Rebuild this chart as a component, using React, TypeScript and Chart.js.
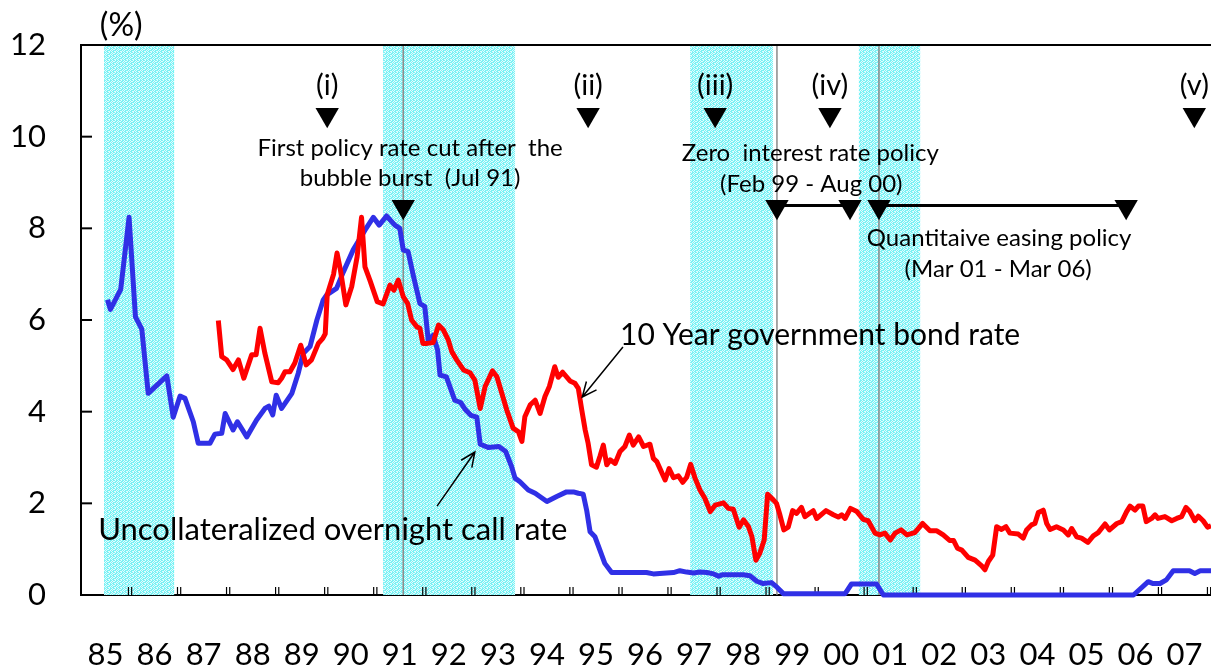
import React, { useEffect, useRef } from 'react';
import { Chart, registerables } from 'chart.js';

Chart.register(...registerables);

const FONT = 'Lato, "Open Sans", "DejaVu Sans", sans-serif';

// ---------- data ----------
const yearLabels = ['85', '86', '87', '88', '89', '90', '91', '92', '93', '94', '95', '96', '97', '98', '99', '00', '01', '02', '03', '04', '05', '06', '07'];
const yTicks = [0, 2, 4, 6, 8, 10, 12];

// Uncollateralized overnight call rate (date in fractional years, %)
const callDates = [
  1985.54, 1985.60, 1985.81, 1985.98, 1986.11, 1986.24, 1986.37, 1986.75, 1986.88, 1987.02,
  1987.12, 1987.29, 1987.39, 1987.63, 1987.73, 1987.87, 1987.94, 1988.10, 1988.19, 1988.38,
  1988.58, 1988.75, 1988.83, 1988.91, 1988.98, 1989.09, 1989.30, 1989.43, 1989.53, 1989.67,
  1989.81, 1989.94, 1990.01, 1990.21, 1990.35, 1990.55, 1990.79, 1990.96, 1991.08, 1991.23,
  1991.40, 1991.50, 1991.57, 1991.67, 1991.78, 1991.91, 1992.01, 1992.08, 1992.18, 1992.27,
  1992.32, 1992.45, 1992.62, 1992.74, 1992.84, 1992.95, 1993.07, 1993.14, 1993.30, 1993.52,
  1993.66, 1993.78, 1993.85, 1993.95, 1994.12, 1994.26, 1994.50, 1994.70, 1994.90, 1995.04,
  1995.14, 1995.24, 1995.31, 1995.38, 1995.48, 1995.58, 1995.68, 1995.82, 1996.53, 1996.67,
  1996.80, 1997.08, 1997.21, 1997.35, 1997.49, 1997.62, 1997.76, 1997.90, 1998.00, 1998.07,
  1998.50, 1998.64, 1998.78, 1998.91, 1999.08, 1999.19, 1999.32, 2000.58, 2000.71, 2001.22,
  2001.36, 2006.46, 2006.76, 2006.86, 2007.00, 2007.13, 2007.27, 2007.60, 2007.71, 2007.82,
  2008.04,
];
const callRates = [
  6.44, 6.23, 6.67, 8.24, 6.07, 5.80, 4.40, 4.78, 3.88, 4.34,
  4.29, 3.78, 3.31, 3.31, 3.51, 3.53, 3.96, 3.60, 3.78, 3.45,
  3.82, 4.07, 4.12, 3.93, 4.36, 4.07, 4.40, 4.84, 5.27, 5.42,
  6.00, 6.44, 6.55, 6.69, 7.05, 7.53, 7.96, 8.24, 8.07, 8.27,
  8.07, 8.00, 7.53, 7.49, 6.95, 6.36, 6.29, 5.56, 5.67, 5.35,
  4.80, 4.76, 4.25, 4.20, 4.04, 3.92, 3.88, 3.29, 3.22, 3.24,
  3.13, 2.80, 2.55, 2.47, 2.29, 2.22, 2.04, 2.15, 2.25, 2.25,
  2.22, 2.20, 1.85, 1.38, 1.27, 0.98, 0.69, 0.49, 0.49, 0.46,
  0.47, 0.49, 0.53, 0.50, 0.48, 0.50, 0.49, 0.46, 0.41, 0.44,
  0.44, 0.42, 0.30, 0.25, 0.27, 0.17, 0.03, 0.03, 0.24, 0.24,
  0.00, 0.00, 0.29, 0.25, 0.25, 0.33, 0.53, 0.53, 0.47, 0.53,
  0.53,
];

// 10 Year government bond rate
const bondDates = [
  1987.80, 1987.87, 1987.97, 1988.10, 1988.21, 1988.32, 1988.48, 1988.57, 1988.65, 1988.75,
  1988.89, 1989.02, 1989.09, 1989.16, 1989.26, 1989.36, 1989.48, 1989.59, 1989.70, 1989.84,
  1989.93, 1989.98, 1990.02, 1990.15, 1990.22, 1990.29, 1990.40, 1990.52, 1990.63, 1990.72,
  1990.79, 1990.89, 1991.04, 1991.16, 1991.30, 1991.38, 1991.47, 1991.57, 1991.66, 1991.74,
  1991.85, 1991.91, 1991.97, 1992.06, 1992.18, 1992.29, 1992.39, 1992.49, 1992.56, 1992.66,
  1992.80, 1992.93, 1993.03, 1993.14, 1993.24, 1993.39, 1993.48, 1993.58, 1993.68, 1993.81,
  1993.92, 1993.99, 1994.05, 1994.16, 1994.26, 1994.36, 1994.46, 1994.55, 1994.66, 1994.73,
  1994.82, 1994.97, 1995.07, 1995.14, 1995.21, 1995.28, 1995.34, 1995.41, 1995.51, 1995.58,
  1995.65, 1995.72, 1995.79, 1995.89, 1995.99, 1996.09, 1996.18, 1996.26, 1996.37, 1996.47,
  1996.60, 1996.67, 1996.74, 1996.91, 1996.99, 1997.08, 1997.18, 1997.27, 1997.35, 1997.43,
  1997.52, 1997.62, 1997.72, 1997.83, 1997.93, 1998.10, 1998.20, 1998.30, 1998.42, 1998.51,
  1998.61, 1998.68, 1998.76, 1998.84, 1998.93, 1999.00, 1999.12, 1999.18, 1999.25, 1999.33,
  1999.42, 1999.51, 1999.59, 1999.69, 1999.76, 1999.93, 2000.00, 2000.19, 2000.34, 2000.44,
  2000.51, 2000.58, 2000.69, 2000.82, 2000.95, 2001.05, 2001.19, 2001.29, 2001.39, 2001.50,
  2001.60, 2001.72, 2001.84, 2002.00, 2002.16, 2002.31, 2002.45, 2002.58, 2002.71, 2002.79,
  2002.87, 2002.96, 2003.09, 2003.23, 2003.37, 2003.43, 2003.50, 2003.59, 2003.67, 2003.77,
  2003.86, 2003.94, 2004.11, 2004.21, 2004.28, 2004.38, 2004.45, 2004.52, 2004.62, 2004.69,
  2004.76, 2004.89, 2005.03, 2005.13, 2005.20, 2005.30, 2005.40, 2005.53, 2005.64, 2005.74,
  2005.88, 2005.97, 2006.12, 2006.22, 2006.32, 2006.39, 2006.49, 2006.56, 2006.65, 2006.72,
  2006.83, 2006.90, 2006.96, 2007.10, 2007.24, 2007.34, 2007.44, 2007.53, 2007.61, 2007.71,
  2007.78, 2007.88, 2007.97, 2008.04,
];
const bondRates = [
  5.99, 5.20, 5.13, 4.92, 5.13, 4.73, 5.24, 5.24, 5.82, 5.27,
  4.65, 4.63, 4.73, 4.87, 4.87, 5.06, 5.45, 5.02, 5.13, 5.49,
  5.60, 5.70, 6.55, 7.00, 7.46, 7.09, 6.33, 6.73, 7.38, 8.24,
  7.16, 6.87, 6.40, 6.35, 6.76, 6.65, 6.87, 6.51, 6.36, 6.00,
  5.85, 5.82, 5.49, 5.49, 5.51, 5.89, 5.78, 5.56, 5.31, 5.13,
  4.91, 4.85, 4.69, 4.07, 4.55, 4.89, 4.76, 4.40, 4.04, 3.64,
  3.56, 3.35, 3.89, 4.15, 4.25, 3.96, 4.33, 4.55, 4.98, 4.75,
  4.86, 4.67, 4.62, 4.51, 4.04, 3.60, 3.31, 2.84, 2.79, 3.02,
  3.27, 2.84, 2.95, 2.87, 3.13, 3.24, 3.49, 3.27, 3.45, 3.24,
  3.29, 2.98, 2.91, 2.51, 2.76, 2.56, 2.60, 2.46, 2.57, 2.85,
  2.55, 2.29, 2.11, 1.82, 1.96, 2.01, 1.89, 1.87, 1.48, 1.64,
  1.49, 1.27, 0.76, 0.91, 1.20, 2.20, 2.07, 2.00, 1.75, 1.42,
  1.48, 1.84, 1.78, 1.91, 1.71, 1.84, 1.67, 1.84, 1.75, 1.70,
  1.75, 1.67, 1.89, 1.82, 1.65, 1.62, 1.35, 1.31, 1.35, 1.20,
  1.35, 1.42, 1.31, 1.36, 1.56, 1.40, 1.40, 1.31, 1.19, 1.19,
  1.02, 0.98, 0.82, 0.76, 0.63, 0.55, 0.73, 0.87, 1.49, 1.43,
  1.49, 1.35, 1.33, 1.24, 1.42, 1.53, 1.56, 1.80, 1.85, 1.56,
  1.43, 1.49, 1.42, 1.31, 1.45, 1.27, 1.24, 1.15, 1.29, 1.36,
  1.55, 1.42, 1.56, 1.60, 1.82, 1.94, 1.85, 1.94, 1.94, 1.60,
  1.67, 1.75, 1.67, 1.71, 1.62, 1.67, 1.71, 1.91, 1.82, 1.62,
  1.72, 1.62, 1.48, 1.51,
];

// recession periods (shaded)
const recessionStarts = [1985.47, 1991.16, 1997.42, 2000.86];
const recessionEnds = [1986.90, 1993.85, 1999.11, 2002.11];

// policy change dates (grey vertical lines)
const policyLines = [1991.57, 1999.19, 2001.27];

// upper event markers (i)..(v)
const eventDates = [1990.02, 1995.34, 1997.93, 2000.27, 2007.70];
const eventNames = ['(i)', '(ii)', '(iii)', '(iv)', '(v)'];
const eventLevel = 10.48;

// lower policy markers
const policyDates = [1991.57, 1999.19, 2000.68, 2001.27, 2006.31];
const policyLevel = 8.47;
const zirpPeriod = [1999.19, 2000.68];
const qePeriod = [2001.27, 2006.31];
const periodLevel = 8.5;

// ---------- annotation config (data coordinates) ----------
const notes = [
  { text: '(%)', x: 1985.82, y: 12.42, size: 32, align: 'center' },
  { text: 'First policy rate cut after  the', x: 1991.71, y: 9.75, size: 24, align: 'center' },
  { text: 'bubble burst  (Jul 91)', x: 1991.71, y: 9.10, size: 24, align: 'center' },
  { text: 'Zero  interest rate policy', x: 1999.87, y: 9.64, size: 24, align: 'center' },
  { text: '(Feb 99 - Aug 00)', x: 1999.89, y: 8.97, size: 24, align: 'center' },
  { text: 'Quantitaive easing policy', x: 2003.72, y: 7.79, size: 24, align: 'center' },
  { text: '(Mar 01 - Mar 06)', x: 2003.70, y: 7.11, size: 24, align: 'center' },
  { text: '10 Year government bond rate', x: 1995.99, y: 5.67, size: 30, align: 'left' },
  { text: 'Uncollateralized overnight call rate', x: 1985.35, y: 1.42, size: 31, align: 'left' },
];
const eventLabelLevel = 11.11;
const arrows = [
  { from: [1996.05, 5.41], to: [1995.22, 4.32] },
  { from: [1992.26, 1.94], to: [1993.03, 3.12] },
];

const toXY = (dates: number[], vals: number[]) => dates.map((d, i) => ({ x: d, y: vals[i] }));

let shadePattern: CanvasPattern | null = null;
function getShade(ctx: CanvasRenderingContext2D) {
  if (shadePattern) return shadePattern;
  const c = document.createElement('canvas');
  c.width = 6;
  c.height = 4;
  const p = c.getContext('2d')!;
  const cells = [
    '101101',
    '011010',
    '110101',
    '001011',
  ];
  for (let j = 0; j < 4; j++) {
    for (let i = 0; i < 6; i++) {
      p.fillStyle = cells[j][i] === '1' ? '#78f2f5' : '#e2fcfd';
      p.fillRect(i, j, 1, 1);
    }
  }
  shadePattern = ctx.createPattern(c, 'repeat');
  return shadePattern;
}

const decorPlugin = {
  id: 'decor',
  beforeDatasetsDraw(chart: any) {
    const { ctx, chartArea: ca, scales } = chart;
    const xs = scales.x;
    const ys = scales.y;
    ctx.save();
    // recession shading
    ctx.fillStyle = getShade(ctx) || 'rgba(80, 238, 245, 0.45)';
    recessionStarts.forEach((s, i) => {
      const x1 = xs.getPixelForValue(s);
      const x2 = xs.getPixelForValue(recessionEnds[i]);
      ctx.fillRect(x1, ca.top, x2 - x1, ca.bottom - ca.top);
    });
    // grey policy lines
    ctx.strokeStyle = '#8a8a8a';
    ctx.lineWidth = 1.5;
    policyLines.forEach((d) => {
      const x = xs.getPixelForValue(d);
      ctx.beginPath();
      ctx.moveTo(x, ca.top);
      ctx.lineTo(x, ca.bottom);
      ctx.stroke();
    });
    // top border
    ctx.strokeStyle = '#000';
    ctx.lineWidth = 2;
    ctx.beginPath();
    ctx.moveTo(ca.left, ca.top);
    ctx.lineTo(ca.right, ca.top);
    ctx.stroke();
    // inward y tick marks
    yTicks.forEach((v) => {
      const y = ys.getPixelForValue(v);
      ctx.beginPath();
      ctx.moveTo(ca.left, y);
      ctx.lineTo(ca.left + 11, y);
      ctx.stroke();
    });
    // inward x tick marks (double)
    ctx.lineWidth = 1.2;
    for (let yr = 1986; yr <= 2008; yr++) {
      const x = xs.getPixelForValue(yr);
      [-1.6, 1.6].forEach((o) => {
        ctx.beginPath();
        ctx.moveTo(x + o, ca.bottom);
        ctx.lineTo(x + o, ca.bottom - 8);
        ctx.stroke();
      });
    }
    ctx.restore();
  },
  afterDatasetsDraw(chart: any) {
    const { ctx, scales } = chart;
    const xs = scales.x;
    const ys = scales.y;
    ctx.save();
    ctx.fillStyle = '#000';
    ctx.textBaseline = 'middle';
    // event labels
    ctx.font = `29px ${FONT}`;
    ctx.textAlign = 'center';
    eventDates.forEach((d, i) => {
      ctx.fillText(eventNames[i], xs.getPixelForValue(d), ys.getPixelForValue(eventLabelLevel));
    });
    notes.forEach((n) => {
      ctx.font = `${n.size}px ${FONT}`;
      ctx.textAlign = n.align as CanvasTextAlign;
      ctx.fillText(n.text, xs.getPixelForValue(n.x), ys.getPixelForValue(n.y));
    });
    // arrows
    ctx.strokeStyle = '#000';
    ctx.lineWidth = 1.5;
    arrows.forEach((a) => {
      const x1 = xs.getPixelForValue(a.from[0]);
      const y1 = ys.getPixelForValue(a.from[1]);
      const x2 = xs.getPixelForValue(a.to[0]);
      const y2 = ys.getPixelForValue(a.to[1]);
      ctx.beginPath();
      ctx.moveTo(x1, y1);
      ctx.lineTo(x2, y2);
      const ang = Math.atan2(y2 - y1, x2 - x1);
      const L = 16;
      const w = 0.42;
      ctx.moveTo(x2 - L * Math.cos(ang - w), y2 - L * Math.sin(ang - w));
      ctx.lineTo(x2, y2);
      ctx.lineTo(x2 - L * Math.cos(ang + w), y2 - L * Math.sin(ang + w));
      ctx.stroke();
    });
    ctx.restore();
  },
};

export default function App() {
  const canvasRef = useRef<HTMLCanvasElement | null>(null);

  useEffect(() => {
    document.body.style.margin = '0';
    const canvas = canvasRef.current;
    if (!canvas) return;
    const chart = new Chart(canvas, {
      type: 'line',
      data: {
        datasets: [
          {
            label: 'Uncollateralized overnight call rate',
            data: toXY(callDates, callRates),
            borderColor: '#3030e6',
            borderWidth: 5,
            pointRadius: 0,
            borderJoinStyle: 'round',
            tension: 0,
            clip: false,
            order: 3,
          },
          {
            label: '10 Year government bond rate',
            data: toXY(bondDates, bondRates),
            borderColor: '#ff0000',
            borderWidth: 5,
            pointRadius: 0,
            borderJoinStyle: 'round',
            tension: 0,
            clip: false,
            order: 2,
          },
          {
            label: 'periods',
            data: [
              { x: zirpPeriod[0], y: periodLevel },
              { x: zirpPeriod[1], y: periodLevel },
              { x: (zirpPeriod[1] + qePeriod[0]) / 2, y: null },
              { x: qePeriod[0], y: periodLevel },
              { x: qePeriod[1], y: periodLevel },
            ] as any,
            borderColor: '#000',
            borderWidth: 3,
            pointRadius: 0,
            spanGaps: false,
            order: 1,
          },
          {
            type: 'scatter',
            label: 'events',
            data: eventDates.map((d) => ({ x: d, y: eventLevel })),
            pointStyle: 'triangle',
            rotation: 180,
            pointRadius: 13.5,
            backgroundColor: '#000',
            borderColor: '#000',
            borderWidth: 0,
            clip: false,
            order: 0,
          } as any,
          {
            type: 'scatter',
            label: 'policy',
            data: policyDates.map((d) => ({ x: d, y: policyLevel })),
            pointStyle: 'triangle',
            rotation: 180,
            pointRadius: 13.5,
            backgroundColor: '#000',
            borderColor: '#000',
            borderWidth: 0,
            clip: false,
            order: 0,
          } as any,
        ],
      },
      options: {
        animation: false,
        responsive: false,
        devicePixelRatio: 1,
        events: [],
        layout: { autoPadding: false, padding: { top: 45, left: 0, right: 0, bottom: 0 } },
        plugins: {
          legend: { display: false },
          tooltip: { enabled: false },
        },
        scales: {
          x: {
            type: 'linear',
            position: 'bottom',
            min: 1985,
            max: 2008.04,
            grid: { display: false, drawTicks: false },
            border: { display: true, color: '#000', width: 2 },
            afterBuildTicks: (scale: any) => {
              scale.ticks = yearLabels.map((_, i) => ({ value: 1985.5 + i }));
            },
            afterFit: (scale: any) => {
              scale.height = 73;
              scale.paddingLeft = 0;
              scale.paddingRight = 0;
            },
            ticks: {
              autoSkip: false,
              maxRotation: 0,
              minRotation: 0,
              padding: 41,
              color: '#000',
              font: { family: FONT, size: 31 },
              callback: (v: any) => yearLabels[Math.round(Number(v) - 1985.5)],
            },
          },
          y: {
            type: 'linear',
            min: 0,
            max: 12,
            grid: { display: false, drawTicks: false },
            border: { display: true, color: '#000', width: 2 },
            afterBuildTicks: (scale: any) => {
              scale.ticks = yTicks.map((v) => ({ value: v }));
            },
            afterFit: (scale: any) => {
              scale.width = 81;
              scale.paddingTop = 0;
              scale.paddingBottom = 0;
            },
            ticks: {
              padding: 35,
              color: '#000',
              font: { family: FONT, size: 31 },
            },
          },
        },
      },
      plugins: [decorPlugin],
    });
    return () => chart.destroy();
  }, []);

  return (
    <div style={{ width: 1211, height: 668 }}>
      <canvas ref={canvasRef} width={1211} height={668} style={{ display: 'block' }} />
    </div>
  );
}
